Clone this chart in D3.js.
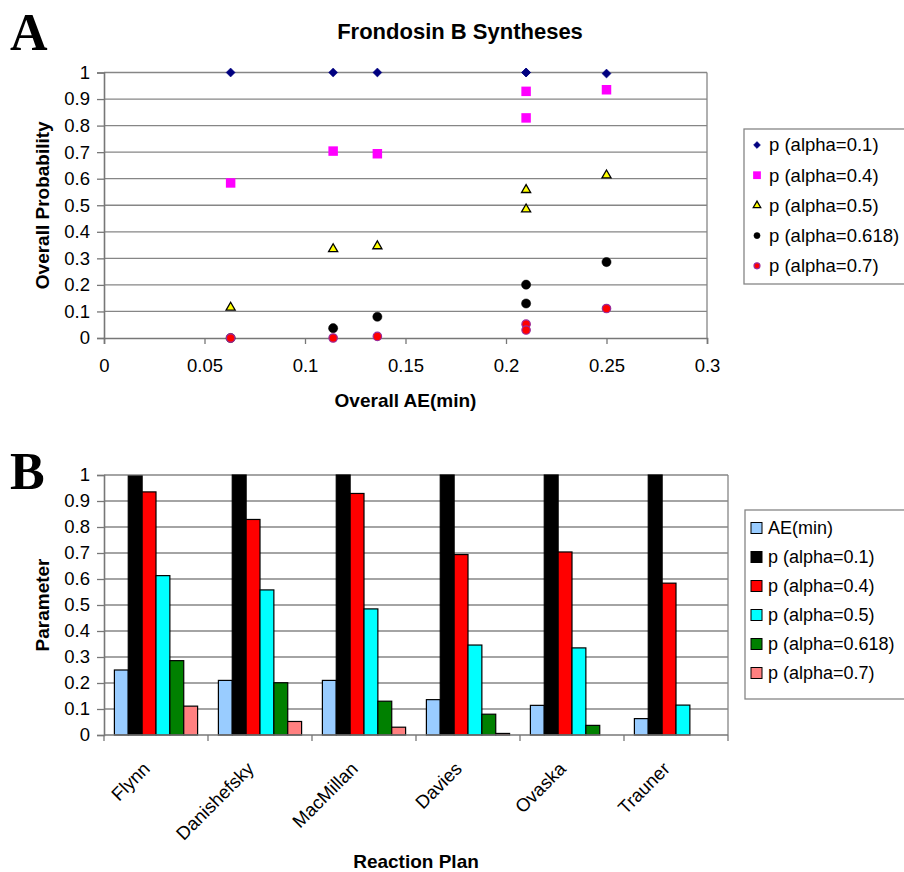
<!DOCTYPE html>
<html>
<head>
<meta charset="utf-8">
<script src="https://cdn.jsdelivr.net/npm/d3@7/dist/d3.min.js"></script>
<style>
  body { margin: 0; background: #fff; }
  svg { font-family: "Liberation Sans", Arial, sans-serif; }
</style>
</head>
<body>
<svg id="chart" width="904" height="872"></svg>
<script>
// values
const plans  = ["Flynn", "Danishefsky", "MacMillan", "Davies", "Ovaska", "Trauner"]
const aeMin  = [0.25, 0.21, 0.21, 0.136, 0.114, 0.063]
const p01    = [0.996, 1, 1, 1, 1, 1]
const p04    = [0.935, 0.829, 0.929, 0.694, 0.704, 0.584]
const p05    = [0.613, 0.558, 0.485, 0.346, 0.335, 0.115]
const p0618  = [0.286, 0.201, 0.13, 0.08, 0.037, 0]
const p07    = [0.111, 0.052, 0.03, 0.006, 0, 0]
const pLabels = ["p (alpha=0.1)", "p (alpha=0.4)", "p (alpha=0.5)", "p (alpha=0.618)", "p (alpha=0.7)"]
const yTicks = [0, 0.1, 0.2, 0.3, 0.4, 0.5, 0.6, 0.7, 0.8, 0.9, 1]
const xTicksA = [0, 0.05, 0.1, 0.15, 0.2, 0.25, 0.3]

const svg = d3.select("#chart")
const grid = "#868686"
const fontTick = "18.5px"

function yAxis(g, y, left, right) {
  g.selectAll(".grid").data(yTicks.filter(d => d > 0)).join("line")
    .attr("x1", left).attr("x2", right)
    .attr("y1", d => y(d)).attr("y2", d => y(d))
    .attr("stroke", grid).attr("stroke-width", 1.3)
  g.append("line").attr("x1", right).attr("x2", right)
    .attr("y1", y(1)).attr("y2", y(0)).attr("stroke", grid).attr("stroke-width", 1.3)
  const ax = g.append("g").attr("transform", `translate(${left},0)`)
    .call(d3.axisLeft(y).tickValues(yTicks).tickSize(7).tickPadding(7).tickFormat(d3.format("")))
  ax.select(".domain").attr("stroke", "#777").attr("stroke-width", 1.6)
  ax.selectAll(".tick line").attr("stroke", "#777").attr("stroke-width", 1.3)
  ax.selectAll("text").style("font-size", fontTick).attr("fill", "#000")
    .attr("font-family", "Liberation Sans, Arial, sans-serif")
}

function yTitle(text, cy) {
  svg.append("text").attr("transform", `translate(49,${cy}) rotate(-90)`)
    .attr("text-anchor", "middle").style("font-size", "19px").style("font-weight", "bold")
    .text(text)
}

function panelLetter(text, x, y) {
  svg.append("text").attr("x", x).attr("y", y)
    .attr("font-family", "Liberation Serif, Times New Roman, serif")
    .style("font-size", "52px").style("font-weight", "bold").text(text)
}

/* ---------- A: scatter ---------- */
function ScatterA() {
  const left = 104, right = 707, top = 72.5, bottom = 338
  const x = d3.scaleLinear().domain([0, 0.3]).range([left, right])
  const y = d3.scaleLinear().domain([0, 1]).range([bottom, top])
  const g = svg.append("g")

  yAxis(g, y, left, right)

  const xa = g.append("g").attr("transform", `translate(0,${bottom})`)
    .call(d3.axisBottom(x).tickValues(xTicksA).tickSize(6).tickPadding(15).tickFormat(d3.format("")))
  xa.select(".domain").attr("stroke", "#777").attr("stroke-width", 1.6)
  xa.selectAll(".tick line").attr("stroke", "#777").attr("stroke-width", 1.3)
  xa.selectAll("text").style("font-size", fontTick).attr("fill", "#000")
    .attr("font-family", "Liberation Sans, Arial, sans-serif")

  svg.append("text").attr("x", 460).attr("y", 39).attr("text-anchor", "middle")
    .style("font-size", "22px").style("font-weight", "bold").text("Frondosin B Syntheses")
  svg.append("text").attr("x", (left + right) / 2).attr("y", 407).attr("text-anchor", "middle")
    .style("font-size", "19px").style("font-weight", "bold").text("Overall AE(min)")
  yTitle("Overall Probability", (top + bottom) / 2)

  const styles = [
    {type: d3.symbolSquare, size: 40, legSize: 24, rot: 45, fill: "#000080", stroke: "#000080", sw: 0.5},
    {type: d3.symbolSquare, size: 90, legSize: 60, rot: 0, fill: "#ff00ff", stroke: "#ff00ff", sw: 0},
    {type: d3.symbolTriangle, size: 36, legSize: 24, rot: 0, fill: "#ffff00", stroke: "#000", sw: 1.3},
    {type: d3.symbolCircle, size: 66, legSize: 30, rot: 0, fill: "#000", stroke: "#000", sw: 0.5},
    {type: d3.symbolCircle, size: 56, legSize: 28, rot: 0, fill: "#ff0000", stroke: "#9a2a9a", sw: 1.2}
  ]
  const series = [p01, p04, p05, p0618, p07]

  series.forEach((vals, k) => {
    const s = styles[k]
    g.append("g").selectAll("path").data(vals).join("path")
      .attr("d", d3.symbol(s.type, s.size))
      .attr("transform", (d, i) => `translate(${x(aeMin[i])},${y(d)}) rotate(${s.rot})`)
      .attr("fill", s.fill).attr("stroke", s.stroke).attr("stroke-width", s.sw)
  })

  // legend
  const lg = svg.append("g")
  lg.append("rect").attr("x", 744).attr("y", 129).attr("width", 170).attr("height", 155)
    .attr("fill", "#fff").attr("stroke", grid).attr("stroke-width", 1.3)
  pLabels.forEach((lab, k) => {
    const s = styles[k], cy = 145 + k * 30.2
    lg.append("path").attr("d", d3.symbol(s.type, s.legSize))
      .attr("transform", `translate(757,${cy}) rotate(${s.rot})`)
      .attr("fill", s.fill).attr("stroke", s.stroke).attr("stroke-width", s.sw)
    lg.append("text").attr("x", 769).attr("y", cy).attr("dy", "0.35em")
      .style("font-size", "18.5px").text(lab)
  })
}

/* ---------- B: grouped bars ---------- */
function BarsB() {
  const left = 104, right = 728, top = 475, bottom = 735
  const names = ["AE(min)"].concat(pLabels)
  const colors = ["#99ccff", "#000000", "#ff0000", "#00ffff", "#008000", "#ff8080"]
  const series = [aeMin, p01, p04, p05, p0618, p07]

  const x0 = d3.scaleBand().domain(plans).range([left, right])
  const x1 = d3.scaleBand().domain(d3.range(series.length))
    .range([0, x0.bandwidth()]).paddingOuter(0.75).paddingInner(0)
  const y = d3.scaleLinear().domain([0, 1]).range([bottom, top])
  const g = svg.append("g")

  yAxis(g, y, left, right)

  const groups = g.append("g").selectAll("g").data(plans).join("g")
    .attr("transform", d => `translate(${x0(d)},0)`)
  groups.selectAll("rect")
    .data((p, i) => series.map((vals, k) => ({k, v: vals[i]})))
    .join("rect")
    .attr("x", d => x1(d.k)).attr("width", x1.bandwidth())
    .attr("y", d => y(d.v)).attr("height", d => bottom - y(d.v))
    .attr("fill", d => colors[d.k])
    .attr("stroke", d => d.v > 0 ? "#000" : "none").attr("stroke-width", 1.2)

  // x axis line, category boundary ticks and rotated labels
  g.append("line").attr("x1", left).attr("x2", right).attr("y1", bottom).attr("y2", bottom)
    .attr("stroke", "#777").attr("stroke-width", 1.6)
  g.selectAll(".xtick").data(plans.concat(["end"])).join("line")
    .attr("x1", (d, i) => left + i * x0.bandwidth()).attr("x2", (d, i) => left + i * x0.bandwidth())
    .attr("y1", bottom).attr("y2", bottom + 6).attr("stroke", "#777").attr("stroke-width", 1.3)
  g.selectAll(".xlab").data(plans).join("text")
    .attr("transform", d => `translate(${x0(d) + x0.bandwidth() / 2 - 5},770) rotate(-45)`)
    .attr("text-anchor", "end").style("font-size", fontTick).text(d => d)

  svg.append("text").attr("x", (left + right) / 2).attr("y", 868).attr("text-anchor", "middle")
    .style("font-size", "19px").style("font-weight", "bold").text("Reaction Plan")
  yTitle("Parameter", (top + bottom) / 2)

  const lg = svg.append("g")
  lg.append("rect").attr("x", 745).attr("y", 510).attr("width", 170).attr("height", 189)
    .attr("fill", "#fff").attr("stroke", grid).attr("stroke-width", 1.3)
  names.forEach((lab, k) => {
    const cy = 528 + k * 29
    lg.append("rect").attr("x", 751).attr("y", cy - 5.5).attr("width", 11).attr("height", 11)
      .attr("fill", colors[k]).attr("stroke", "#000").attr("stroke-width", 1)
    lg.append("text").attr("x", 768).attr("y", cy).attr("dy", "0.35em")
      .style("font-size", "18px").text(lab)
  })
}

ScatterA()
BarsB()
panelLetter("A", 10, 50)
panelLetter("B", 10, 489)
</script>
</body>
</html>
